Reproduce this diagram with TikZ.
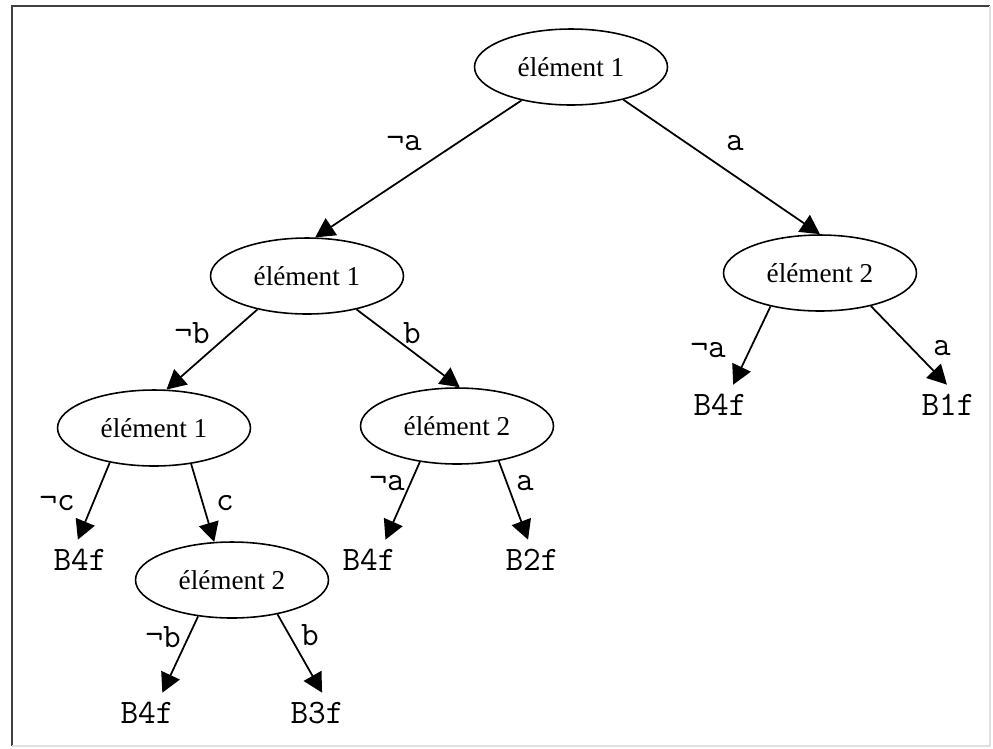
\documentclass[tikz,border=0pt]{standalone}
\usepackage{fontspec}
\setmainfont{Liberation Serif}
\usetikzlibrary{shapes.geometric}
\usetikzlibrary{arrows.meta}

\tikzset{
    elem/.style={draw, ellipse, line width=0.9pt, minimum width=3.86cm, minimum height=1.52cm,
        inner sep=0pt, font=\fontsize{15.5}{18}\selectfont},
    leaf/.style={minimum height=0.8cm, inner sep=2pt, font=\ttfamily\fontsize{19.5}{22}\selectfont},
    lbl/.style={inner sep=0pt, font=\ttfamily\fontsize{19.5}{22}\selectfont},
    edge/.style={-{Triangle[length=11pt,width=11.5pt]}, line width=1pt},
}

\begin{document}
\begin{tikzpicture}[x=0.02cm, y=-0.02cm]
        \useasboundingbox (0,0) rectangle (993,748);

        % Frame
        \draw[black!75, line width=0.8pt] (12,746) -- (12,6) -- (990,6);
        \draw[black!12, line width=0.8pt] (990,6) -- (990,746) -- (12,746);

        % Elements
        \node[elem] (root) at (571,67) {élément 1};
        \node[elem] (e1) at (307,276) {élément 1};
        \node[elem] (e2) at (820,273) {élément 2};
        \node[elem] (e11) at (154,428) {élément 1};
        \node[elem] (e12) at (457,426) {élément 2};
        \node[elem] (e112) at (232,580) {élément 2};

        % Leaves
        \node[leaf] (f21) at (720,405) {B4f};
        \node[leaf] (f22) at (948,405) {B1f};
        \node[leaf] (f111) at (80,560) {B4f};
        \node[leaf] (f121) at (369,560) {B4f};
        \node[leaf] (f122) at (532,560) {B2f};
        \node[leaf] (f1121) at (147,713) {B4f};
        \node[leaf] (f1122) at (317,713) {B3f};

        % Edges
        \draw[edge] (root.214) -- (e1.78);
        \draw[edge] (root.328) -- (e2.north);
        \draw[edge] (e1.214) -- (e11.72);
        \draw[edge] (e1.326) -- (e12.86);
        \draw[edge] (e2.214) -- (f21.57);
        \draw[edge] (e2.327) -- (f22.93);
        \draw[edge] (e11.218) -- (f111.96);
        \draw[edge] (e11.316) -- (e112.115);
        \draw[edge] (e12.224) -- (f121.51);
        \draw[edge] (e12.320) -- (f122.101);
        \draw[edge] (e112.227) -- (f1121.53);
        \draw[edge] (e112.323) -- (f1122.76);

        % Labels
        \node[lbl] (l1) at (404,143) {¬a};
        \node[lbl] (l2) at (735,143) {a};
        \node[lbl] (l3) at (192,333) {¬b};
        \node[lbl] (l4) at (412,333) {b};
        \node[lbl] (l5) at (708,350) {¬a};
        \node[lbl] (l6) at (942,348) {a};
        \node[lbl] (l7) at (57,503) {¬c};
        \node[lbl] (l8) at (225,503) {c};
        \node[lbl] (l9) at (387,483) {¬a};
        \node[lbl] (l10) at (525,483) {a};
        \node[lbl] (l11) at (163,637) {¬b};
        \node[lbl] (l12) at (310,635) {b};
    \end{tikzpicture}
\end{document}
